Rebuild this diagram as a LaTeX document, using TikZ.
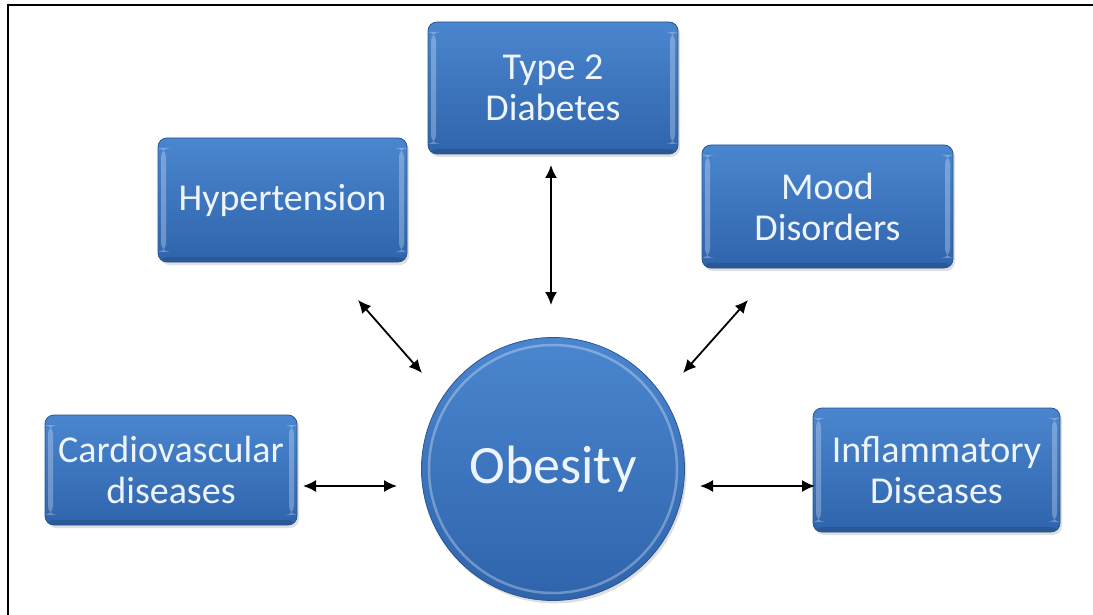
\documentclass[tikz,border=0pt]{standalone}
\usepackage{fontspec}
\setmainfont{Carlito}
\usetikzlibrary{arrows.meta,shadows}
\definecolor{boxtop}{HTML}{4A86CF}
\definecolor{boxbot}{HTML}{2F64AC}
\definecolor{boxedge}{HTML}{2A568F}
\definecolor{txt}{HTML}{EEF4FB}
\tikzset{
  box/.style={
    rectangle, rounded corners=9pt, draw=boxedge, line width=0.8pt,
    top color=boxtop, bottom color=boxbot, text=txt,
    font=\fontsize{38}{41}\selectfont, align=center,
    drop shadow={opacity=0.25, shadow xshift=2pt, shadow yshift=-3pt},
    path picture={
      \fill[white, opacity=0.28]
        ([xshift=3pt,yshift=-10pt]path picture bounding box.north west) rectangle
        ([xshift=8pt,yshift=10pt]path picture bounding box.south west);
      \fill[white, opacity=0.28]
        ([xshift=-8pt,yshift=-10pt]path picture bounding box.north east) rectangle
        ([xshift=-3pt,yshift=10pt]path picture bounding box.south east);
      \fill[black, opacity=0.12]
        ([yshift=5pt]path picture bounding box.south west) rectangle
        (path picture bounding box.south east);
    }
  },
  hub/.style={
    circle, minimum size=263pt, inner sep=0pt, draw=boxedge, line width=0.8pt,
    top color=boxtop, bottom color=boxbot, text=txt,
    font=\fontsize{54}{60}\selectfont,
    drop shadow={opacity=0.25, shadow xshift=2pt, shadow yshift=-3pt},
    path picture={
      \draw[white, opacity=0.3, line width=2.5pt]
        (path picture bounding box.center) circle (124pt);
    }
  },
  link/.style={line width=1.8pt, {Latex[length=13pt,width=12pt]}-{Latex[length=13pt,width=12pt]}}
}
\begin{document}
\begin{tikzpicture}[x=1pt,y=-1pt]
  \useasboundingbox (0,0) rectangle (1093,615);
  % frame
  \draw[line width=2pt] (8,615) -- (8,5) -- (1093,5);

  % nodes
  \node[box, minimum width=250pt, minimum height=132pt] (t2)   at (553,88)  {Type 2\\Diabetes};
  \node[box, minimum width=249pt, minimum height=124pt] (hyp)  at (282.5,200) {Hypertension};
  \node[box, minimum width=251pt, minimum height=123pt] (mood) at (827.5,206.5) {Mood\\Disorders};
  \node[box, minimum width=252pt, minimum height=110pt] (cvd)  at (171,470) {Cardiovascular\\diseases};
  \node[box, minimum width=247pt, minimum height=124pt] (infl) at (936.5,470) {Inflammatory\\Diseases};
  \node[hub] (ob) at (553,469) {Obesity};

  % arrow end points
  \coordinate (t2a) at (551,165);   \coordinate (t2b) at (551,305);
  \coordinate (hypa) at (358,300);  \coordinate (hypb) at (422,373);
  \coordinate (mooda) at (748,300); \coordinate (moodb) at (683,373);
  \coordinate (cvda) at (303,486);  \coordinate (cvdb) at (397,486);
  \coordinate (infla) at (700,486); \coordinate (inflb) at (815,486);

  \draw[link] (t2a) -- (t2b);
  \draw[link] (hypa) -- (hypb);
  \draw[link] (mooda) -- (moodb);
  \draw[link] (cvda) -- (cvdb);
  \draw[link] (infla) -- (inflb);
\end{tikzpicture}
\end{document}
